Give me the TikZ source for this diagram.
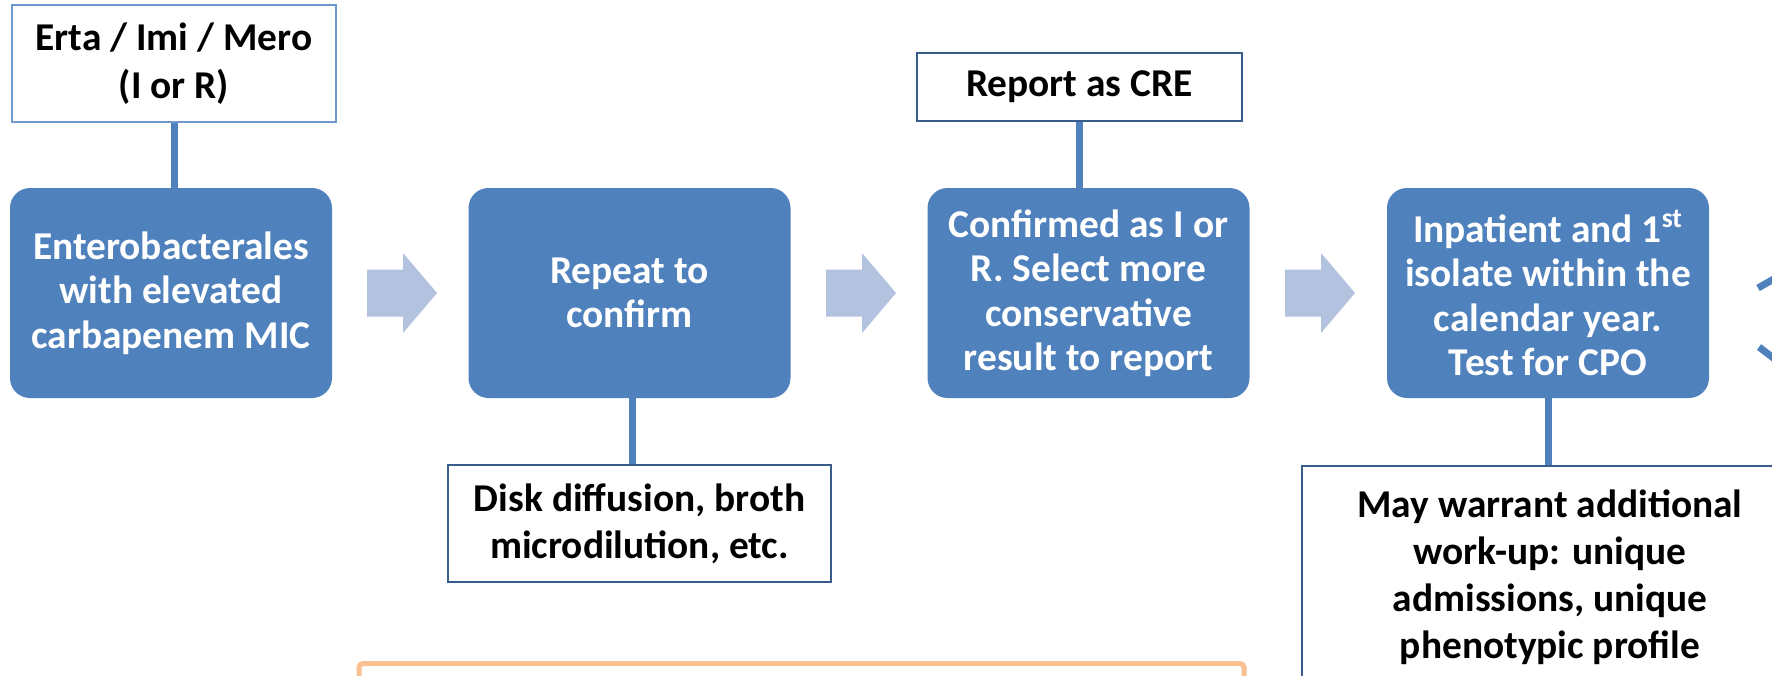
\documentclass[tikz,border=0pt]{standalone}
\usepackage{fontspec}
\setmainfont{Carlito}
\definecolor{boxblue}{RGB}{79,129,189}
\definecolor{arrowc}{RGB}{179,194,222}
\definecolor{darkedge}{RGB}{56,93,138}
\definecolor{lightedge}{RGB}{110,152,206}
\definecolor{noteorange}{RGB}{250,192,144}
\tikzset{
  bluebox/.style={rectangle, rounded corners=10pt, fill=boxblue, text=white,
    minimum width=161pt, minimum height=105pt, inner sep=0pt, align=center,
    font=\bfseries\fontsize{19.7}{22.25}\selectfont},
  labelbox/.style={rectangle, fill=white, draw=darkedge, line width=1pt,
    inner sep=0pt, align=center, text=black,
    font=\bfseries\fontsize{19.7}{23.5}\selectfont},
  plaintext/.style={inner sep=0pt, align=center, text=black,
    font=\bfseries\fontsize{19.7}{23.5}\selectfont},
  conn/.style={draw=boxblue, line width=3.5pt},
  blockarrow/.style={fill=arrowc, draw=none}
}
\newcommand\drawblockarrow[1]{%
  \path[blockarrow] (#1) ++(0,-23.5) -- ++(36,0) -- ++(0,-16.5) -- ++(34,40)
    -- ++(-34,40) -- ++(0,-16.5) -- ++(-36,0) -- cycle;}
\begin{document}
\begin{tikzpicture}[x=0.5pt,y=-0.5pt]
\clip (0,0) rectangle (1772,675);
\fill[white] (0,0) rectangle (1772,675);

% main flow boxes
\node[bluebox] (b1) at (171,293) {Enterobacterales\\with elevated\\carbapenem MIC};
\node[bluebox] (b2) at (629.5,293) {Repeat to\\confirm};
\node[bluebox] (b3) at (1088.5,293) {Confirmed as I or\\R. Select more\\conservative\\result to report};
\node[bluebox] (b4) at (1548,293) {Inpatient and 1\textsuperscript{st}\\isolate within the\\calendar year.\\Test for CPO};

% block arrows
\coordinate (a1) at (367,293);
\coordinate (a2) at (826,293);
\coordinate (a3) at (1285,293);
\drawblockarrow{a1}
\drawblockarrow{a2}
\drawblockarrow{a3}

% side boxes
\node[labelbox, draw=lightedge, minimum width=162pt, minimum height=58.5pt,
      font=\bfseries\fontsize{19.7}{24}\selectfont] (t1) at (174,63.5) {Erta / Imi / Mero\\(I or R)};
\node[labelbox, minimum width=162.5pt, minimum height=34pt] (t3) at (1079.5,87) {Report as CRE};
\node[labelbox, minimum width=191.5pt, minimum height=58.5pt] (d2) at (639.5,523.5) {Disk diffusion, broth\\microdilution, etc.};
\node[labelbox, minimum width=249pt, minimum height=130pt, anchor=north] (maybox) at (1551,465) {};
\node[plaintext] (may) at (1550,577) {May warrant additional\\work-up: unique\\admissions, unique\\phenotypic profile};

% orange note box (cut off at bottom)
\node[rectangle, draw=noteorange, line width=2.5pt, fill=white, rounded corners=2pt,
      minimum width=442.5pt, minimum height=40pt, anchor=north] (note) at (801.5,661) {};

% connectors
\draw[conn] (t1.south) -- (t1.south |- b1.north);
\draw[conn] (t3.south) -- (t3.south |- b3.north);
\draw[conn] (632,398) coordinate (c2s) -- (c2s |- d2.north);
\draw[conn] (b4.south) -- (b4.south |- maybox.north);

% connectors leaving to the right
\coordinate (r1s) at (1758,288);
\coordinate (r1e) at (1793,268);
\coordinate (r2s) at (1759,347);
\coordinate (r2e) at (1793,373);
\draw[conn] (r1s) -- (r1e);
\draw[conn] (r2s) -- (r2e);
\end{tikzpicture}
\end{document}
